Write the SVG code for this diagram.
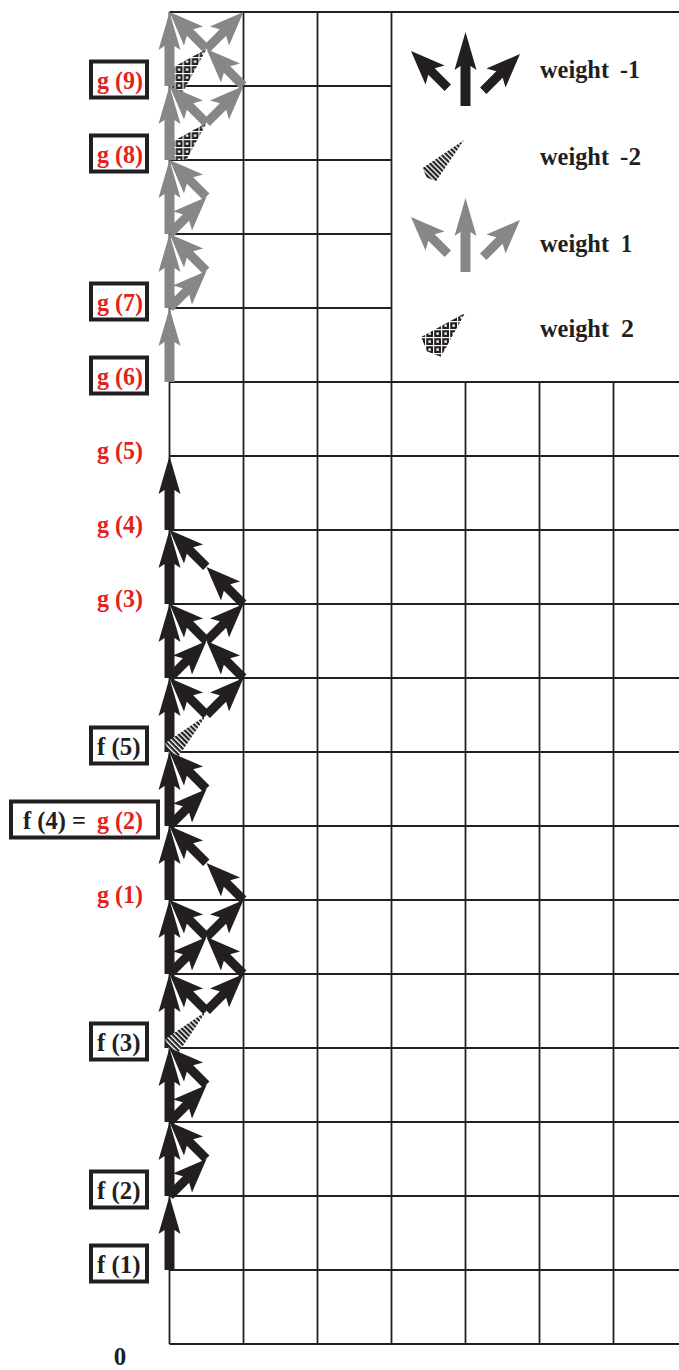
<svg xmlns="http://www.w3.org/2000/svg" xmlns:xlink="http://www.w3.org/1999/xlink" width="679" height="1370" viewBox="0 0 679 1370">
<style>
.ln{stroke:#231f20;stroke-width:1.8;fill:none}
.k{fill:#231f20}
.gy{fill:#878787}
.box{fill:#fff;stroke:#231f20;stroke-width:4}
.t{font-family:"Liberation Serif","Times New Roman",serif;font-weight:bold;font-size:25px}
.red{fill:#e3231b}
.blk{fill:#231f20}
</style>
<defs>
<pattern id="hatch" patternUnits="userSpaceOnUse" width="20" height="3.6"><rect width="20" height="3.6" fill="#fff"/><rect width="20" height="2.2" fill="#231f20"/></pattern>
<pattern id="check" patternUnits="userSpaceOnUse" width="8" height="8" patternTransform="rotate(-45)"><rect width="8" height="8" fill="#231f20"/><rect width="8" height="1.2" fill="#fff"/><rect width="1.2" height="8" fill="#fff"/><rect x="3.4" y="3.4" width="2.4" height="2.4" fill="#fff"/></pattern>
<polygon id="va" points="0,0 11,38 5,34 5,74 -5,74 -5,34 -11,38"/>
<polygon id="da" points="0,0 13.5,34 4.5,29 4.5,52 -4.5,52 -4.5,29 -13.5,34"/>
<polygon id="hc" points="0,0 9.5,49 0,53 -9.5,49" fill="url(#hatch)"/>
<polygon id="cc" points="0,0 14,48 0,54 -14,48" fill="url(#check)"/>
<clipPath id="topclip"><rect x="170" y="12" width="74" height="148"/></clipPath>
</defs>
<rect width="679" height="1370" fill="#fff"/>
<g id="grid" class="ln">
<path d="M169.5 12H679M169.5 86H391.5M169.5 160H391.5M169.5 234H391.5M169.5 308H391.5M169.5 382H679M169.5 456H679M169.5 530H679M169.5 604H679M169.5 678H679M169.5 752H679M169.5 826H679M169.5 900H679M169.5 974H679M169.5 1048H679M169.5 1122H679M169.5 1196H679M169.5 1270H679M169.5 1344H679"/>
<path d="M169.5 12V1344M243.5 12V1344M317.5 12V1344M391.5 12V1344M465.5 382V1344M539.5 382V1344M613.5 382V1344"/>
</g>
<g id="connectors">
<g clip-path="url(#topclip)">
<use href="#cc" transform="translate(206.5,49) rotate(45)"/>
<use href="#cc" transform="translate(206.5,123) rotate(45)"/>
</g>
<g class="gy">
<use href="#va" transform="translate(169.5,12)"/>
<use href="#va" transform="translate(169.5,86)"/>
<use href="#va" transform="translate(169.5,160)"/>
<use href="#va" transform="translate(169.5,234)"/>
<use href="#va" transform="translate(169.5,308)"/>
<use href="#da" transform="translate(206.5,49) rotate(-45)"/>
<use href="#da" transform="translate(169.5,12) rotate(-45)"/>
<use href="#da" transform="translate(243.5,12) rotate(45)"/>
<use href="#da" transform="translate(169.5,86) rotate(-45)"/>
<use href="#da" transform="translate(243.5,86) rotate(45)"/>
<use href="#da" transform="translate(206.5,197) rotate(45)"/>
<use href="#da" transform="translate(169.5,160) rotate(-45)"/>
<use href="#da" transform="translate(206.5,271) rotate(45)"/>
<use href="#da" transform="translate(169.5,234) rotate(-45)"/>
</g>
<g class="k">
<use href="#va" transform="translate(169.5,456)"/>
<use href="#va" transform="translate(169.5,530)"/>
<use href="#va" transform="translate(169.5,604)"/>
<use href="#va" transform="translate(169.5,678)"/>
<use href="#va" transform="translate(169.5,752)"/>
<use href="#va" transform="translate(169.5,826)"/>
<use href="#va" transform="translate(169.5,900)"/>
<use href="#va" transform="translate(169.5,974)"/>
<use href="#va" transform="translate(169.5,1048)"/>
<use href="#va" transform="translate(169.5,1122)"/>
<use href="#va" transform="translate(169.5,1196)"/>
<use href="#da" transform="translate(206.5,567) rotate(-45)"/>
<use href="#da" transform="translate(169.5,530) rotate(-45)"/>
<use href="#da" transform="translate(206.5,641) rotate(45)"/>
<use href="#da" transform="translate(206.5,641) rotate(-45)"/>
<use href="#da" transform="translate(169.5,604) rotate(-45)"/>
<use href="#da" transform="translate(243.5,604) rotate(45)"/>
<use href="#hc" transform="translate(206.5,715) rotate(45)"/>
<use href="#da" transform="translate(169.5,678) rotate(-45)"/>
<use href="#da" transform="translate(243.5,678) rotate(45)"/>
<use href="#da" transform="translate(206.5,789) rotate(45)"/>
<use href="#da" transform="translate(169.5,752) rotate(-45)"/>
<use href="#da" transform="translate(206.5,863) rotate(-45)"/>
<use href="#da" transform="translate(169.5,826) rotate(-45)"/>
<use href="#da" transform="translate(206.5,937) rotate(45)"/>
<use href="#da" transform="translate(206.5,937) rotate(-45)"/>
<use href="#da" transform="translate(169.5,900) rotate(-45)"/>
<use href="#da" transform="translate(243.5,900) rotate(45)"/>
<use href="#hc" transform="translate(206.5,1011) rotate(45)"/>
<use href="#da" transform="translate(169.5,974) rotate(-45)"/>
<use href="#da" transform="translate(243.5,974) rotate(45)"/>
<use href="#da" transform="translate(206.5,1085) rotate(45)"/>
<use href="#da" transform="translate(169.5,1048) rotate(-45)"/>
<use href="#da" transform="translate(206.5,1159) rotate(45)"/>
<use href="#da" transform="translate(169.5,1122) rotate(-45)"/>
</g>
</g>
<g id="legend">
<g class="k">
<use href="#va" transform="translate(465.5,32)"/>
<use href="#da" transform="translate(411,51) rotate(-45)"/>
<use href="#da" transform="translate(520,54) rotate(45)"/>
</g>
<use href="#hc" transform="translate(464,140) rotate(45)"/>
<g class="gy">
<use href="#va" transform="translate(465.5,198)"/>
<use href="#da" transform="translate(411,217) rotate(-45)"/>
<use href="#da" transform="translate(520,220) rotate(45)"/>
</g>
<use href="#cc" transform="translate(465,313) rotate(45)"/>
<text class="t blk" x="540" y="78"><tspan textLength="69" lengthAdjust="spacingAndGlyphs">weight</tspan> <tspan x="620" textLength="20" lengthAdjust="spacingAndGlyphs">-1</tspan></text>
<text class="t blk" x="540" y="165"><tspan textLength="69" lengthAdjust="spacingAndGlyphs">weight</tspan> <tspan x="620" textLength="21" lengthAdjust="spacingAndGlyphs">-2</tspan></text>
<text class="t blk" x="540" y="252"><tspan textLength="69" lengthAdjust="spacingAndGlyphs">weight</tspan> <tspan x="621" textLength="11" lengthAdjust="spacingAndGlyphs">1</tspan></text>
<text class="t blk" x="540" y="337"><tspan textLength="69" lengthAdjust="spacingAndGlyphs">weight</tspan> <tspan x="621" textLength="13" lengthAdjust="spacingAndGlyphs">2</tspan></text>
</g>
<g id="g9"><rect class="box" x="91" y="61.5" width="56" height="36"/><text class="t red" x="97" y="88.5" textLength="46" lengthAdjust="spacingAndGlyphs">g (9)</text></g>
<g id="g8"><rect class="box" x="91" y="135.5" width="56" height="36"/><text class="t red" x="97" y="162.5" textLength="46" lengthAdjust="spacingAndGlyphs">g (8)</text></g>
<g id="g7"><rect class="box" x="91" y="283.5" width="56" height="36"/><text class="t red" x="97" y="310.5" textLength="46" lengthAdjust="spacingAndGlyphs">g (7)</text></g>
<g id="g6"><rect class="box" x="91" y="357.5" width="56" height="36"/><text class="t red" x="97" y="384.5" textLength="46" lengthAdjust="spacingAndGlyphs">g (6)</text></g>
<g id="g5"><text class="t red" x="97" y="458.5" textLength="46" lengthAdjust="spacingAndGlyphs">g (5)</text></g>
<g id="g4"><text class="t red" x="97" y="532.5" textLength="46" lengthAdjust="spacingAndGlyphs">g (4)</text></g>
<g id="g3"><text class="t red" x="97" y="606.5" textLength="46" lengthAdjust="spacingAndGlyphs">g (3)</text></g>
<g id="f5"><rect class="box" x="91" y="727.5" width="56" height="36"/><text class="t blk" x="97" y="754.5" textLength="43.5" lengthAdjust="spacingAndGlyphs">f (5)</text></g>
<g id="f4g2"><rect class="box" x="11" y="801.5" width="147" height="36"/><text class="t" x="23" y="828.5"><tspan class="blk" textLength="63" lengthAdjust="spacingAndGlyphs">f (4) =</tspan> <tspan class="red" x="97" textLength="46" lengthAdjust="spacingAndGlyphs">g (2)</tspan></text></g>
<g id="g1"><text class="t red" x="97" y="902.5" textLength="46" lengthAdjust="spacingAndGlyphs">g (1)</text></g>
<g id="f3"><rect class="box" x="91" y="1023.5" width="56" height="36"/><text class="t blk" x="97" y="1050.5" textLength="43.5" lengthAdjust="spacingAndGlyphs">f (3)</text></g>
<g id="f2"><rect class="box" x="91" y="1171.5" width="56" height="36"/><text class="t blk" x="97" y="1198.5" textLength="43.5" lengthAdjust="spacingAndGlyphs">f (2)</text></g>
<g id="f1"><rect class="box" x="91" y="1245.5" width="56" height="36"/><text class="t blk" x="97" y="1272.5" textLength="43.5" lengthAdjust="spacingAndGlyphs">f (1)</text></g>
<g id="zero"><text class="t blk" x="120" y="1365" text-anchor="middle">0</text></g>
</svg>
